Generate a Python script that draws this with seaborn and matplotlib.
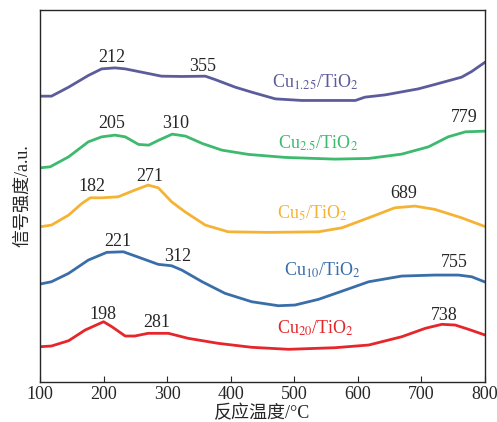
import numpy as np
import pandas as pd
import matplotlib
matplotlib.use('Agg')
import matplotlib.pyplot as plt
import seaborn as sns

# 数据（从图上读取，信号强度为任意单位并已纵向偏移）
t_125 = [100, 118, 145, 176, 197, 218, 234, 260, 291, 323, 360, 375, 407, 433, 470, 512, 596, 611, 643, 695, 721, 763, 779, 800]
s_125 = [286, 286, 295, 306.7, 313.3, 314.3, 313.3, 310, 306, 305.7, 306, 302.7, 295, 290, 283.3, 281.7, 281.7, 285, 287.3, 293.3, 297.7, 305, 310.7, 320]

t_25 = [100, 116, 145, 176, 197, 218, 234, 255, 271, 287, 308, 329, 355, 386, 428, 486, 564, 617, 669, 711, 742, 769, 800]
s_25 = [214.3, 215.3, 225.3, 240.3, 245.3, 247, 245.3, 237.7, 237, 242, 248, 246, 238.7, 232, 227.7, 224.7, 223, 223.7, 228, 235.3, 245.3, 250.3, 251]

t_5 = [100, 118, 145, 166, 179, 197, 223, 249, 270, 286, 307, 328, 360, 396, 459, 538, 575, 617, 658, 690, 721, 763, 800]
s_5 = [155.3, 157, 167, 178.7, 184.3, 184.3, 185.3, 192, 197, 194.3, 180.3, 170.3, 157, 150.3, 149.7, 150.3, 154.3, 164.3, 174.3, 176, 172.7, 164.3, 155.5]

t_10 = [100, 118, 145, 176, 205, 231, 260, 286, 307, 323, 355, 391, 433, 475, 501, 538, 580, 617, 669, 721, 758, 779, 800]
s_10 = [98, 100.3, 108.7, 122, 129.7, 130.3, 123.7, 117.7, 116.3, 112, 100.3, 88.7, 80.3, 76.3, 77, 82.7, 92, 100.3, 106, 107, 107, 105.3, 100]

t_20 = [100, 118, 145, 171, 200, 213, 234, 249, 270, 302, 333, 380, 433, 491, 564, 617, 669, 706, 732, 753, 774, 800]
s_20 = [35.3, 36, 41.3, 52, 60.3, 55.3, 46, 46, 48.7, 48.7, 43.7, 38.7, 34.7, 32.7, 34.3, 37, 45.3, 53.7, 57.7, 57, 52.7, 47]

samples = ['1.25', '2.5', '5', '10', '20']
colors = ['#5c5c9c', '#3dba6e', '#f5b335', '#3a6ea8', '#e5262b']
curves = [(t_125, s_125), (t_25, s_25), (t_5, s_5), (t_10, s_10), (t_20, s_20)]

# 峰值标注 (文本, 温度, 信号)
peaks = [('212', 213, 325), ('355', 356, 316),
         ('205', 213, 259), ('310', 314, 259), ('779', 767, 265),
         ('182', 182, 196), ('271', 273, 206), ('689', 672, 189),
         ('221', 223, 141), ('312', 317, 126), ('755', 751, 120),
         ('198', 199, 68), ('281', 283, 60), ('738', 736, 67)]
label_pos = [(533, 300), (537, 239), (528, 169), (544, 112), (534, 54)]

rows = []
for name, (t, s) in zip(samples, curves):
    for a, b in zip(t, s):
        rows.append({'sample': name, 'T': a, 'signal': b})
df = pd.DataFrame(rows)

sns.set_style('ticks')
plt.rcParams['font.family'] = ['Liberation Serif', 'Noto Sans CJK SC']
plt.rcParams['mathtext.fontset'] = 'stix'

fig = plt.figure(figsize=(4.97, 4.22), dpi=100)
ax = fig.add_axes([0.0805, 0.0948, 0.8955, 0.881])

sns.lineplot(data=df, x='T', y='signal', hue='sample', palette=colors,
             hue_order=samples, linewidth=2, legend=False, ax=ax, sort=True,
             solid_joinstyle='round', solid_capstyle='round')

for txt, x, y in peaks:
    ax.text(x, y, txt, ha='center', va='center', fontsize=13)

for name, c, (x, y) in zip(samples, colors, label_pos):
    ax.text(x, y, 'Cu$_{\\mathrm{' + name + '}}$/TiO$_2$', color=c,
            ha='center', va='center', fontsize=13)

ax.set_xlim(100, 800)
ax.set_ylim(0, 372)
ax.set_xticks(range(100, 801, 100))
ax.set_yticks([])
ax.tick_params(axis='x', direction='in', length=4, labelsize=13, pad=3)
ax.set_xlabel('反应温度/°C', fontsize=13, labelpad=1)
ax.set_ylabel('信号强度/a.u.', fontsize=13, labelpad=6)
for sp in ax.spines.values():
    sp.set_linewidth(1.0)

fig.savefig('out.png', dpi=100)
